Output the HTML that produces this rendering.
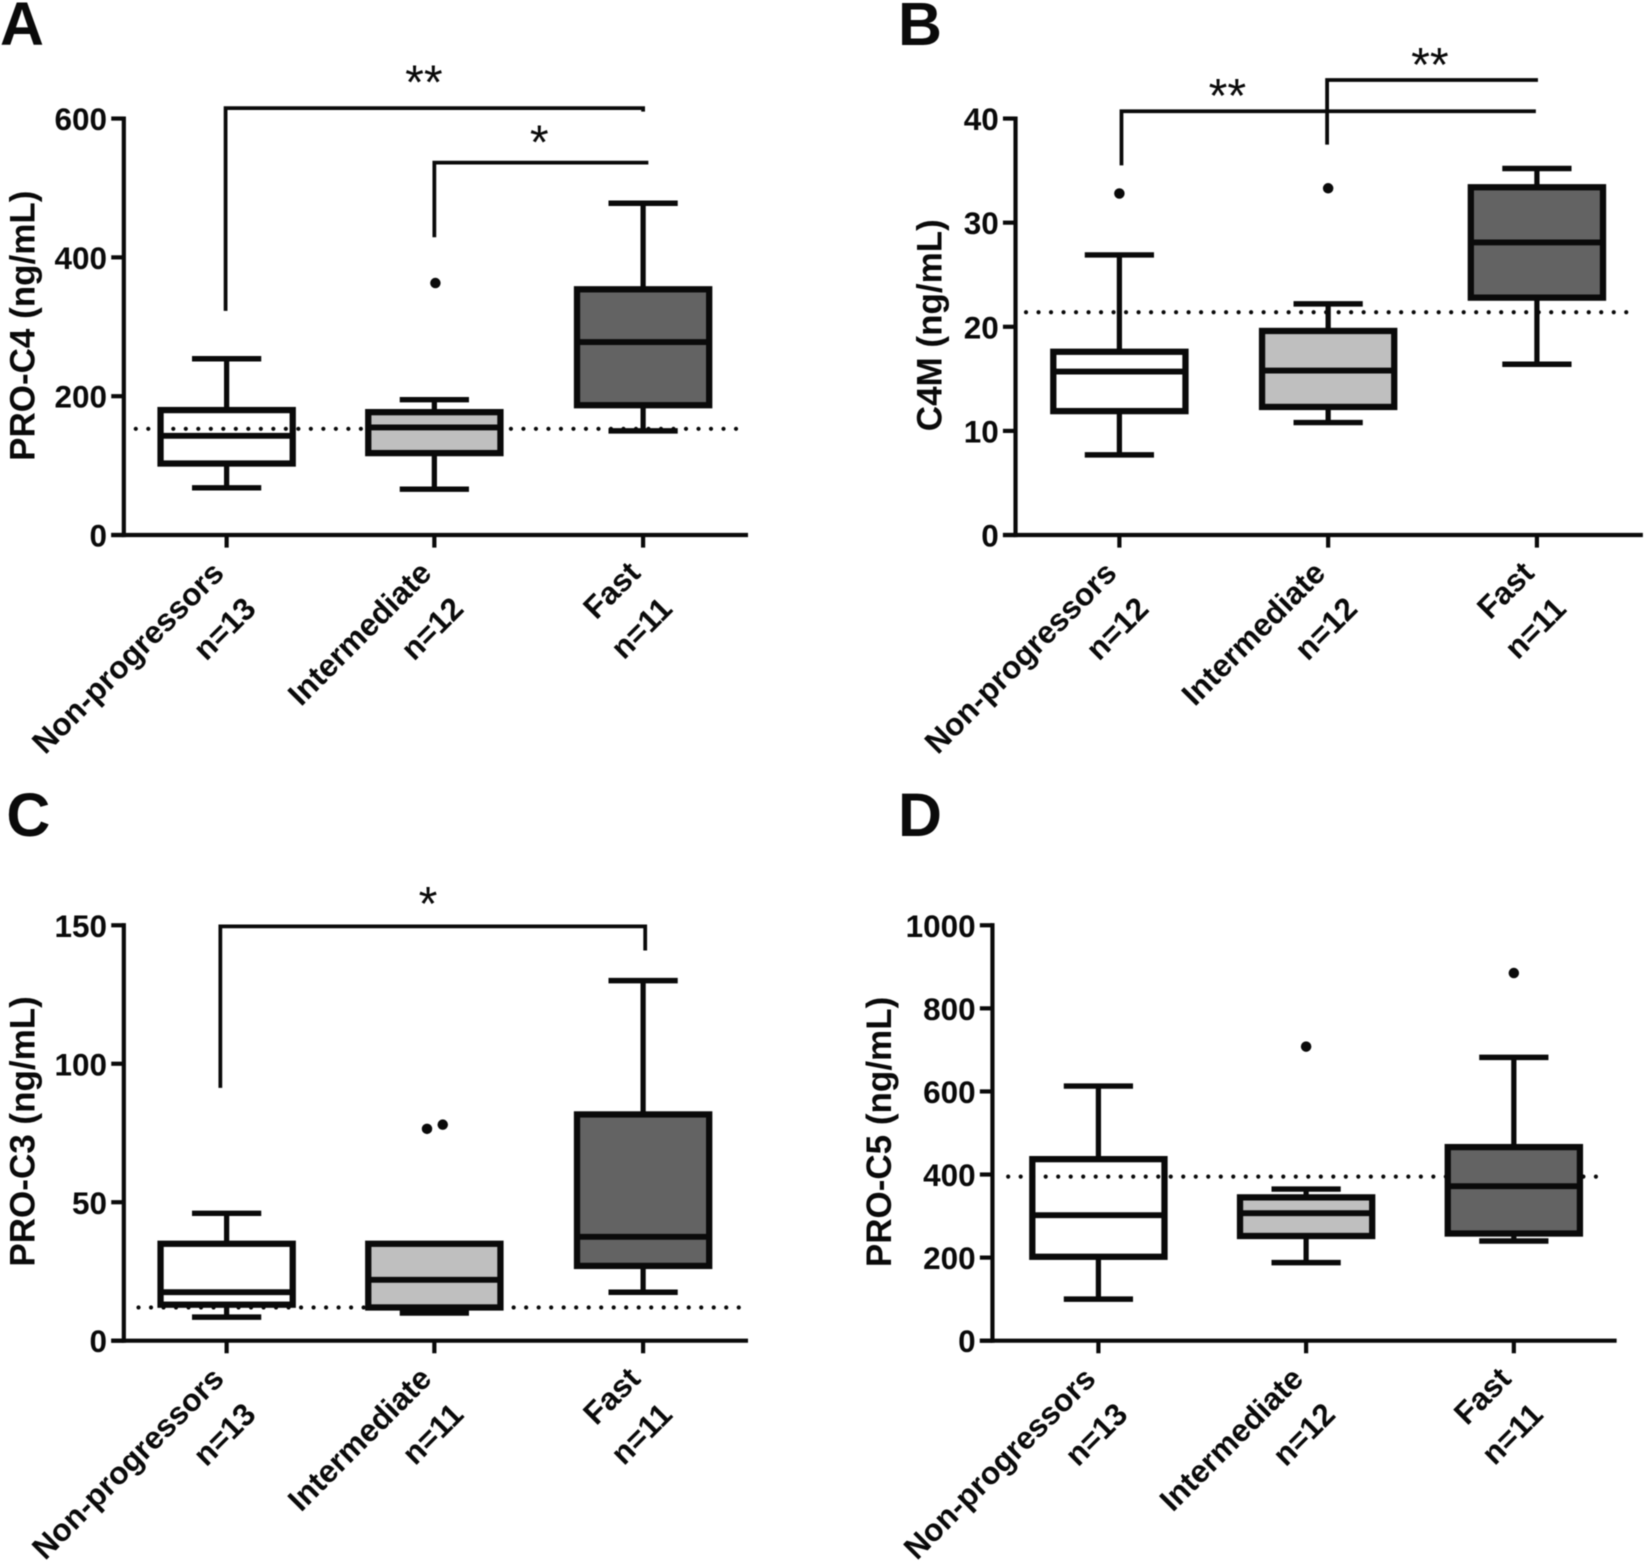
<!DOCTYPE html>
<html lang="en">
<head>
<meta charset="utf-8">
<title>Collagen biomarkers by progression group</title>
<style>
  html, body { margin: 0; padding: 0; background: #fff; }
  #figure { display: block; width: 1645px; height: 1561px; filter: blur(0.5px); }
  text { font-family: "Liberation Sans", Arial, sans-serif; fill: #0a0a0a; }
  .bold { font-weight: 700; }
</style>
</head>
<body>
<svg id="figure" xmlns="http://www.w3.org/2000/svg" width="1645" height="1561" viewBox="0 0 1568 1488"></svg>
<script>
const categories = ['Non-progressors', 'Intermediate', 'Fast'];
const boxFills = ['none', '#bfbfbf', '#636363'];

const panelATicks = [0, 200, 400, 600];
const panelACounts = ['n=13', 'n=12', 'n=11'];
const panelAHigh = [254, 195, 478];
const panelAQ3 = [180, 177, 354];
const panelAMedian = [143, 155, 278];
const panelAQ1 = [103, 118, 187];
const panelALow = [68, 66, 150];
const panelAOutliers = [[], [363], []];
const panelARef = 153;

const panelBTicks = [0, 10, 20, 30, 40];
const panelBCounts = ['n=12', 'n=12', 'n=11'];
const panelBHigh = [26.9, 22.2, 35.2];
const panelBQ3 = [17.6, 19.6, 33.4];
const panelBMedian = [15.7, 15.8, 28.1];
const panelBQ1 = [11.9, 12.3, 22.8];
const panelBLow = [7.7, 10.8, 16.4];
const panelBOutliers = [[32.8], [33.3], []];
const panelBRef = 21.4;

const panelCTicks = [0, 50, 100, 150];
const panelCCounts = ['n=13', 'n=11', 'n=11'];
const panelCHigh = [46, 13, 130];
const panelCQ3 = [35, 35, 81.7];
const panelCMedian = [17.5, 22, 37.5];
const panelCQ1 = [13, 12, 27];
const panelCLow = [8.5, 10, 17.5];
const panelCOutliers = [[], [76.5, 78], []];
const panelCRef = 12;

const panelDTicks = [0, 200, 400, 600, 800, 1000];
const panelDCounts = ['n=13', 'n=12', 'n=11'];
const panelDHigh = [613, 365, 682];
const panelDQ3 = [437, 345, 466];
const panelDMedian = [302, 307, 372];
const panelDQ1 = [202, 252, 258];
const panelDLow = [100, 188, 240];
const panelDOutliers = [[], [708], [885]];
const panelDRef = 395;

const panels = [
  { id: 'a', letter: 'A', letterX: 0, letterY: 43, title: 'PRO-C4 (ng/mL)', titleX: 33, titleY: 310.5,
    axisX: 118, y0: 510, yTop: 113, xEnd: 713, yMax: 600, cats: [216, 414, 613], refX: [129.4, 705],
    ticks: panelATicks, counts: panelACounts, high: panelAHigh, q3: panelAQ3, median: panelAMedian,
    q1: panelAQ1, low: panelALow, outliers: panelAOutliers, ref: panelARef,
    outlierDx: [[], [1], []],
    brackets: [
      { from: 0, fromDx: -1, to: 2, toDx: 0, top: 615, fromEnd: 323, toEnd: 610, star: '**', starX: 404, starY: 94 },
      { from: 1, fromDx: 0, to: 2, toDx: 5, top: 536.5, fromEnd: 429, toEnd: 536.5, star: '*', starX: 514, starY: 151 }
    ] },
  { id: 'b', letter: 'B', letterX: 856, letterY: 43, title: 'C4M (ng/mL)', titleX: 897.5, titleY: 310,
    axisX: 968, y0: 510, yTop: 113, xEnd: 1566, yMax: 40, cats: [1067, 1266, 1465], refX: [978, 1555],
    ticks: panelBTicks, counts: panelBCounts, high: panelBHigh, q3: panelBQ3, median: panelBMedian,
    q1: panelBQ1, low: panelBLow, outliers: panelBOutliers, ref: panelBRef,
    outlierDx: [[0], [0], []],
    brackets: [
      { from: 0, fromDx: 2, to: 2, toDx: -1, top: 40.7, fromEnd: 35.5, toEnd: 40.7, star: '**', starX: 1170, starY: 107 },
      { from: 1, fromDx: -1, to: 2, toDx: 1, top: 43.7, fromEnd: 37.5, toEnd: 43.7, star: '**', starX: 1363, starY: 77 }
    ] },
  { id: 'c', letter: 'C', letterX: 6, letterY: 797, title: 'PRO-C3 (ng/mL)', titleX: 33, titleY: 1078.5,
    axisX: 118, y0: 1278, yTop: 882, xEnd: 713, yMax: 150, cats: [216, 414, 613], refX: [132, 705],
    ticks: panelCTicks, counts: panelCCounts, high: panelCHigh, q3: panelCQ3, median: panelCMedian,
    q1: panelCQ1, low: panelCLow, outliers: panelCOutliers, ref: panelCRef,
    outlierDx: [[], [-7, 8], []],
    brackets: [
      { from: 0, fromDx: -6, to: 2, toDx: 2, top: 149.6, fromEnd: 91.3, toEnd: 140.9, star: '*', starX: 408, starY: 877 }
    ] },
  { id: 'd', letter: 'D', letterX: 856, letterY: 797, title: 'PRO-C5 (ng/mL)', titleX: 849.5, titleY: 1079,
    axisX: 946, y0: 1278, yTop: 882, xEnd: 1541, yMax: 1000, cats: [1047, 1245, 1443], refX: [961, 1533],
    ticks: panelDTicks, counts: panelDCounts, high: panelDHigh, q3: panelDQ3, median: panelDMedian,
    q1: panelDQ1, low: panelDLow, outliers: panelDOutliers, ref: panelDRef,
    outlierDx: [[], [0], [0]],
    brackets: [] }
];

const NS = 'http://www.w3.org/2000/svg';
const INK = '#0a0a0a';
const figure = document.getElementById('figure');

function shape(parent, tag, attrs) {
  const node = document.createElementNS(NS, tag);
  for (const key in attrs) node.setAttribute(key, attrs[key]);
  parent.appendChild(node);
  return node;
}
function line(parent, x1, y1, x2, y2, width) {
  return shape(parent, 'line', { x1, y1, x2, y2, stroke: INK, 'stroke-width': width });
}

function drawPanel(p) {
  const scaleY = v => p.y0 - (v / p.yMax) * (p.y0 - p.yTop);
  const g = shape(figure, 'g', {});
  
  

  const letter = shape(g, 'text', { x: p.letterX, y: p.letterY, 'font-size': 58, class: 'bold' });
  letter.textContent = p.letter;
  
  

  const title = shape(g, 'text', { x: p.titleX, y: p.titleY, 'font-size': 33.4, class: 'bold', 'text-anchor': 'middle',
    transform: 'rotate(-90 ' + p.titleX + ' ' + p.titleY + ')' });
  title.textContent = p.title;
  
  

  const refLine = shape(g, 'line', { x1: p.refX[0], x2: p.refX[1], y1: scaleY(p.ref), y2: scaleY(p.ref),
    stroke: INK, 'stroke-width': 4, 'stroke-linecap': 'round', 'stroke-dasharray': '0 11.92' });
  
  

  p.cats.forEach((cx, i) => {
    const high = line(g, cx, scaleY(p.high[i]), cx, scaleY(p.q3[i]), 5);
    
    
    const low = line(g, cx, scaleY(p.q1[i]), cx, scaleY(p.low[i]), 5);
    
    
    const capHigh = line(g, cx - 33, scaleY(p.high[i]), cx + 33, scaleY(p.high[i]), 5.2);
    
    
    const capLow = line(g, cx - 33, scaleY(p.low[i]), cx + 33, scaleY(p.low[i]), 5.2);
    
    
    const box = shape(g, 'rect', { x: cx - 63, width: 126, y: scaleY(p.q3[i]), height: scaleY(p.q1[i]) - scaleY(p.q3[i]),
      fill: boxFills[i], stroke: INK, 'stroke-width': 6 });
    
    
    const median = line(g, cx - 63, scaleY(p.median[i]), cx + 63, scaleY(p.median[i]), 5.6);
    
    
    p.outliers[i].forEach((value, k) => {
      const dot = shape(g, 'circle', { cx: cx + p.outlierDx[i][k], cy: scaleY(value), r: 5, fill: INK });
      
      
    });
  });

  const yAxis = line(g, p.axisX, p.yTop - 2, p.axisX, p.y0 + 2, 4);
  
  
  const xAxis = line(g, p.axisX - 12, p.y0, p.xEnd, p.y0, 4);
  
  

  p.ticks.forEach(value => {
    const y = scaleY(value);
    const mark = line(g, p.axisX - 12, y, p.axisX, y, 4);
    
    
    const label = shape(g, 'text', { x: p.axisX - 16, y: y + 11, 'font-size': 30, class: 'bold', 'text-anchor': 'end' });
    label.textContent = String(value);
    
    
  });

  p.cats.forEach((cx, i) => {
    const mark = line(g, cx, p.y0, cx, p.y0 + 12, 4);
    
    
    const nameX = cx - 1, nameY = p.y0 + 38;
    const name = shape(g, 'text', { x: nameX, y: nameY, 'font-size': 30, class: 'bold', 'text-anchor': 'end',
      transform: 'rotate(-45 ' + nameX + ' ' + nameY + ')' });
    name.textContent = categories[i];
    
    
    const countX = cx + 29.5, countY = p.y0 + 72;
    const count = shape(g, 'text', { x: countX, y: countY, 'font-size': 30, class: 'bold', 'text-anchor': 'end',
      transform: 'rotate(-45 ' + countX + ' ' + countY + ')' });
    count.textContent = p.counts[i];
    
    
  });

  p.brackets.forEach(b => {
    const x1 = p.cats[b.from] + b.fromDx, x2 = p.cats[b.to] + b.toDx;
    const path = shape(g, 'path', {
      d: 'M' + x1 + ' ' + scaleY(b.fromEnd) + 'V' + scaleY(b.top) + 'H' + x2 + 'V' + scaleY(b.toEnd),
      fill: 'none', stroke: INK, 'stroke-width': 3.6 });
    
    
    const star = shape(g, 'text', { x: b.starX, y: b.starY, 'font-size': 46, 'text-anchor': 'middle' });
    star.textContent = b.star;
    
    
  });
}

panels.forEach(drawPanel);
</script>
</body>
</html>
